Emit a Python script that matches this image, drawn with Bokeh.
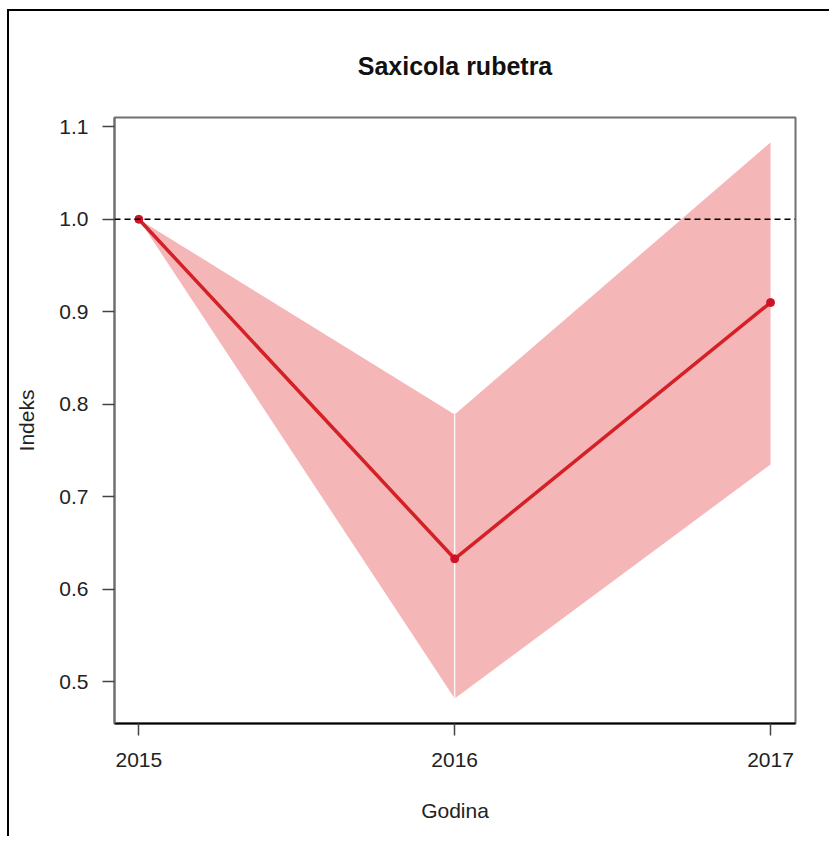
from bokeh.plotting import figure
from bokeh.models import ColumnDataSource, Span, Range1d, FixedTicker, NumeralTickFormatter
from bokeh.embed import file_html
from bokeh.resources import INLINE

years = [2015, 2016, 2017]
index_vals = [1.0, 0.633, 0.910]
lower_vals = [1.0, 0.482, 0.735]
upper_vals = [1.0, 0.789, 1.083]
y_ticks = [0.5, 0.6, 0.7, 0.8, 0.9, 1.0, 1.1]
title_text = "Saxicola rubetra"
x_label = "Godina"
y_label = "Indeks"

FONT = "Liberation Sans"
LINE_RED = "#D42027"
BAND = "#F5B6B7"

p = figure(width=822, height=827, output_backend="svg", toolbar_location=None,
           x_range=Range1d(2014.923, 2017.079), y_range=Range1d(0.455, 1.110),
           min_border_left=105, min_border_top=105, min_border_right=36,
           min_border_bottom=115,
           styles={"border-left": "2px solid black", "border-top": "2px solid black",
                   "margin-left": "7px", "margin-top": "9px"})

p.background_fill_color = "white"
p.border_fill_color = "white"
p.outline_line_color = "#707070"
p.outline_line_width = 2
p.xgrid.visible = False
p.ygrid.visible = False

p.title.text = title_text
p.title.align = "center"
p.title.text_font = FONT
p.title.text_font_size = "25px"
p.title.text_font_style = "bold"
p.title.text_color = "#111111"
p.title.standoff = 76

# band: two halves (leaves a thin seam at the middle year)
for i in range(len(years) - 1):
    xs = [years[i], years[i + 1], years[i + 1], years[i]]
    ys = [upper_vals[i], upper_vals[i + 1], lower_vals[i + 1], lower_vals[i]]
    p.patch(xs, ys, fill_color=BAND, line_color=None)

seam = ColumnDataSource(dict(x0=[years[1]], y0=[lower_vals[1]], x1=[years[1]], y1=[upper_vals[1]]))
p.segment(x0="x0", y0="y0", x1="x1", y1="y1", source=seam, line_color="white", line_width=1.2)

p.add_layout(Span(location=1.0, dimension="width", line_color="black",
                  line_dash="6 4", line_width=1.5))

src = ColumnDataSource(dict(x=years, y=index_vals))
p.line("x", "y", source=src, line_color=LINE_RED, line_width=3.5)
p.scatter("x", "y", source=src, size=8, fill_color="#CC1426", line_color="#CC1426")

for ax in (p.xaxis[0], p.yaxis[0]):
    ax.major_tick_in = 0
    ax.major_tick_out = 12
    ax.minor_tick_line_color = None
    ax.major_tick_line_color = "#444444"
    ax.major_tick_line_width = 1.5
    ax.major_label_text_font = FONT
    ax.major_label_text_font_size = "21px"
    ax.major_label_text_color = "#222222"
    ax.axis_label_text_font = FONT
    ax.axis_label_text_font_size = "21px"
    ax.axis_label_text_font_style = "normal"
    ax.axis_label_text_color = "#222222"

p.xaxis.ticker = FixedTicker(ticks=years)
p.xaxis.axis_label = x_label
p.xaxis.axis_line_color = "black"
p.xaxis.axis_line_width = 2
p.xaxis.major_label_standoff = 17
p.xaxis.axis_label_standoff = 29

p.yaxis.ticker = FixedTicker(ticks=y_ticks)
p.yaxis.formatter = NumeralTickFormatter(format="0.0")
p.yaxis.major_label_orientation = "horizontal"
p.yaxis.axis_label = y_label
p.yaxis.axis_line_color = "#707070"
p.yaxis.axis_line_width = 2
p.yaxis.major_label_standoff = 14
p.yaxis.axis_label_standoff = 18

open("out.html", "w").write(file_html(p, INLINE))
